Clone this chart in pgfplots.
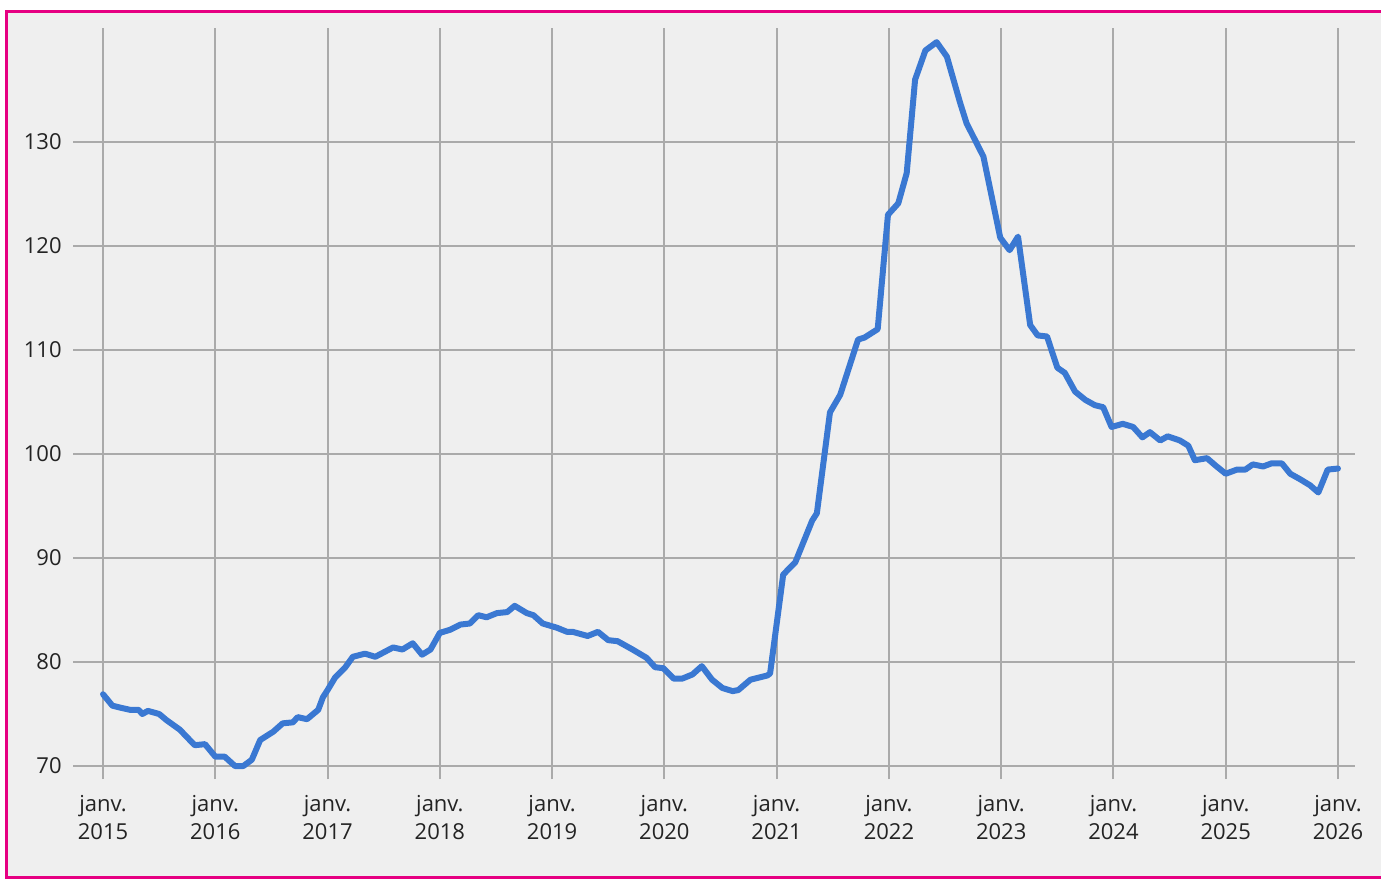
\documentclass[border=0pt]{standalone}
\usepackage{fontspec}
\setmainfont{Open Sans}
\usepackage{pgfplots}
\pgfplotsset{compat=1.18}
\definecolor{pinkframe}{RGB}{230,0,130}
\definecolor{bgcol}{RGB}{239,239,239}
\definecolor{linecol}{RGB}{58,120,210}
\definecolor{gridcol}{RGB}{170,170,170}
\definecolor{txt}{RGB}{35,35,35}
\pgfplotstableread{
m v
0 76.9
1.0 75.8
1.9 75.6
2.9 75.4
3.8 75.4
4.2 75.0
4.8 75.3
6.0 75.0
6.8 74.4
8.2 73.5
9.8 72.0
10.9 72.1
12.0 70.9
13.0 70.9
14.1 70.0
15.0 70.0
15.9 70.6
16.8 72.5
18.2 73.3
19.2 74.1
20.3 74.2
20.8 74.7
21.8 74.5
23.0 75.4
23.5 76.6
24.0 77.3
24.8 78.5
25.9 79.5
26.7 80.5
28.0 80.8
29.1 80.5
31.0 81.4
32.0 81.2
33.1 81.8
34.1 80.7
35.0 81.2
36.0 82.8
37.1 83.1
38.2 83.6
39.2 83.7
40.1 84.5
41.0 84.3
42.1 84.7
43.2 84.8
44.0 85.4
45.3 84.7
46.0 84.5
47.0 83.7
48.5 83.3
49.6 82.9
50.2 82.9
51.8 82.5
52.9 82.9
54.0 82.1
55.0 82.0
56.6 81.2
58.1 80.4
59.0 79.5
59.9 79.4
61.0 78.4
61.9 78.4
63.0 78.8
64.0 79.6
65.1 78.3
66.2 77.5
67.3 77.2
67.9 77.3
69.2 78.3
71.0 78.7
71.3 78.9
72.7 88.4
74.0 89.6
75.8 93.6
76.3 94.3
77.7 104.0
78.8 105.7
80.7 111.0
81.4 111.2
82.8 112.0
83.9 123.0
85.0 124.1
85.9 127.0
86.8 136.0
87.9 138.8
89.1 139.6
90.2 138.2
91.6 133.8
92.3 131.8
94.1 128.6
95.9 120.8
96.9 119.6
97.8 120.9
99.1 112.4
99.9 111.4
100.9 111.3
102.0 108.3
102.8 107.8
103.9 106.0
105.0 105.2
106.0 104.7
106.9 104.5
107.8 102.6
109.0 102.9
110.1 102.6
111.1 101.6
111.9 102.1
113.0 101.3
113.8 101.7
115.1 101.3
116.0 100.8
116.7 99.4
118.0 99.6
118.9 98.9
120.0 98.1
121.2 98.5
122.1 98.5
122.9 99.0
124.0 98.8
124.9 99.1
126.0 99.1
126.9 98.1
127.9 97.6
129.0 97.0
129.9 96.3
130.9 98.5
132.0 98.6
}\datatable
\begin{document}
\begin{tikzpicture}
\useasboundingbox (-36.5bp,-50bp) rectangle (654bp,389.5bp);
\fill[white] (-36.5bp,-50bp) rectangle (654bp,389.5bp);
\fill[bgcol] (-33bp,-49bp) rectangle (654bp,383.5bp);
\draw[pinkframe, line width=1.5bp] (660bp,383.5bp) -- (-33bp,383.5bp) -- (-33bp,-49bp) -- (660bp,-49bp);
\begin{axis}[
  at={(0,0)}, anchor=south west,
  scale only axis, width=641bp, height=375.5bp,
  xmin=-3.21, xmax=133.82, ymin=68.75, ymax=140.96,
  axis line style={draw=none},
  major tick length=0pt,
  xtick={0,12,...,132},
  xticklabels={{janv.\\2015},{janv.\\2016},{janv.\\2017},{janv.\\2018},{janv.\\2019},{janv.\\2020},{janv.\\2021},{janv.\\2022},{janv.\\2023},{janv.\\2024},{janv.\\2025},{janv.\\2026}},
  ytick={70,80,...,130},
  grid=major,
  major grid style={gridcol, line width=1bp},
  tick label style={font=\fontsize{11bp}{13.8bp}\selectfont, text=txt, inner sep=0pt},
  yticklabel style={xshift=-5.5bp},
  xticklabel style={align=center, yshift=-8bp},
  /pgf/number format/assume math mode=true,
  clip=false,
]
\addplot[linecol, line width=3bp, line join=round, line cap=round] table[x=m, y=v] {\datatable};
\end{axis}
\end{tikzpicture}
\end{document}
